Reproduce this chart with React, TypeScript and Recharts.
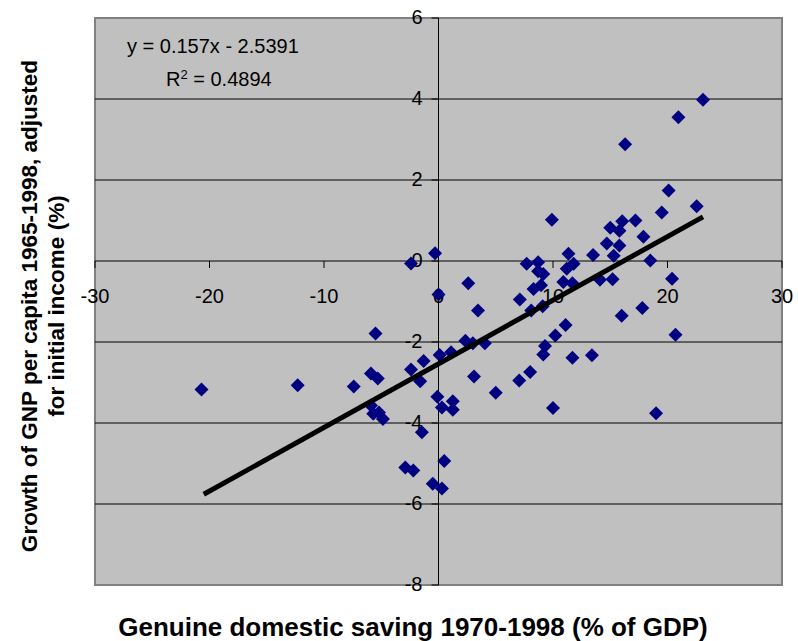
import React from 'react';
import { ScatterChart, Scatter, XAxis, YAxis, ReferenceLine, ReferenceArea, ReferenceDot } from 'recharts';

// genuine domestic saving (% of GDP) vs. adjusted GNP growth (%)
const savingX = [
  -20.7, -12.3, -7.4, -5.5, -5.9, -5.3, -5.9, -5.7, -5.2, -4.85,
  -2.4, -1.3, -1.6, -1.45, -2.9, -2.2, -0.5, 0.3, -0.1, 0.3,
  1.25, 1.25, 0.5, -0.3, -2.4, 0.0, 2.6, 3.45, 0.1, 1.1,
  2.35, 3.0, 4.05, 3.1, 5.0, 7.05, 8.0, 10.0, 19.0, 7.1,
  8.1, 9.1, 9.3, 9.15, 10.2, 11.1, 11.7, 13.4, 16.0, 17.8,
  20.7, 7.7, 8.7, 8.7, 9.15, 8.3, 8.95, 11.35, 11.8, 11.2,
  10.9, 11.7, 13.5, 14.1, 15.2, 14.7, 15.8, 15.3, 9.9, 23.1,
  20.95, 16.3, 20.1, 22.55, 19.5, 17.2, 16.05, 15.0, 15.8, 17.9,
  18.5, 20.4,
];
const growthY = [
  -3.17, -3.07, -3.1, -1.79, -2.78, -2.9, -3.57, -3.77, -3.74, -3.9,
  -2.68, -2.47, -2.97, -4.23, -5.1, -5.17, -5.5, -5.62, -3.35, -3.62,
  -3.46, -3.67, -4.94, 0.19, -0.06, -0.83, -0.55, -1.22, -2.32, -2.25,
  -1.97, -2.03, -2.03, -2.85, -3.25, -2.95, -2.74, -3.63, -3.76, -0.95,
  -1.22, -1.12, -2.1, -2.31, -1.84, -1.58, -2.39, -2.33, -1.35, -1.16,
  -1.82, -0.07, -0.03, -0.25, -0.32, -0.69, -0.6, 0.18, -0.07, -0.19,
  -0.52, -0.55, 0.15, -0.46, -0.45, 0.43, 0.38, 0.13, 1.02, 3.98,
  3.55, 2.88, 1.74, 1.35, 1.2, 1.0, 0.98, 0.82, 0.75, 0.6,
  0.01, -0.44,
];

// linear trend endpoints (y = 0.157x - 2.5391)
const trendX = [-20.5, 23.1];
const trendY = [-5.76, 1.09];

const xTicks = [-30, -20, -10, 0, 10, 20, 30];
const yTicks = [6, 4, 2, 0, -2, -4, -6, -8];
const gridY = [4, 2, -2, -4, -6];

const points = savingX.map((x, i) => ({ x, y: growthY[i] }));
const trend = trendX.map((x, i) => ({ x, y: trendY[i] }));

const FONT = '"Liberation Sans", Arial, sans-serif';

const Diamond = (props: any) => {
  const { cx, cy } = props;
  if (cx == null || cy == null) return null;
  const r = 7;
  return (
    <polygon
      points={`${cx},${cy - r} ${cx + r},${cy} ${cx},${cy + r} ${cx - r},${cy}`}
      fill="#000080"
    />
  );
};

const xTickShape = (value: number) => (props: any) => {
  const { cx, cy } = props;
  return (
    <g>
      <line x1={cx} y1={cy} x2={cx} y2={cy + 7} stroke="#000" />
      <text x={cx} y={cy + 37} textAnchor="middle" dominantBaseline="middle" fontSize={20} fontFamily={FONT} fill="#000">
        {value}
      </text>
    </g>
  );
};

const yTickShape = (value: number) => (props: any) => {
  const { cx, cy } = props;
  return (
    <g>
      <line x1={cx - 7} y1={cy} x2={cx} y2={cy} stroke="#000" />
      <text x={cx - 16} y={cy + 1} textAnchor="end" dominantBaseline="middle" fontSize={20} fontFamily={FONT} fill="#000">
        {value}
      </text>
    </g>
  );
};

export default function App() {
  return (
    <div style={{ position: 'absolute', left: 0, top: 0, width: 798, height: 641, background: '#fff', fontFamily: FONT }}>
      <ScatterChart width={798} height={641} margin={{ top: 18, right: 16, bottom: 56, left: 95 }}>
        <XAxis type="number" dataKey="x" domain={[-30, 30]} ticks={xTicks} hide />
        <YAxis type="number" dataKey="y" domain={[-8, 6]} ticks={yTicks} hide />
        <ReferenceArea x1={-30} x2={30} y1={-8} y2={6} fill="#c0c0c0" fillOpacity={1} stroke="#808080" strokeWidth={2} />
        {gridY.map((v) => (
          <ReferenceLine key={'g' + v} y={v} stroke="#000" strokeWidth={1} />
        ))}
        <ReferenceLine y={0} stroke="#000" strokeWidth={1} />
        <ReferenceLine x={0} stroke="#000" strokeWidth={1} />
        {xTicks.map((v) => (
          <ReferenceDot key={'x' + v} x={v} y={0} r={0} ifOverflow="visible" shape={xTickShape(v)} />
        ))}
        {yTicks.map((v) => (
          <ReferenceDot key={'y' + v} x={0} y={v} r={0} ifOverflow="visible" shape={yTickShape(v)} />
        ))}
        <Scatter data={points} shape={<Diamond />} isAnimationActive={false} />
        <Scatter
          data={trend}
          line={{ stroke: '#000', strokeWidth: 5 }}
          shape={() => null}
          isAnimationActive={false}
        />
      </ScatterChart>
      <div style={{ position: 'absolute', left: 127, top: 34, fontSize: 20, lineHeight: '24px', color: '#000' }}>
        y = 0.157x - 2.5391
      </div>
      <div style={{ position: 'absolute', left: 166, top: 67, fontSize: 20, lineHeight: '24px', color: '#000' }}>
        R<sup style={{ fontSize: 13, verticalAlign: 'top', position: 'relative', top: -4 }}>2</sup> = 0.4894
      </div>
      <div
        style={{
          position: 'absolute', left: 413, top: 627, transform: 'translate(-50%, -50%)', whiteSpace: 'nowrap',
          fontSize: 26, fontWeight: 'bold', lineHeight: '28px', color: '#000',
        }}
      >
        Genuine domestic saving 1970-1998 (% of GDP)
      </div>
      <div
        style={{
          position: 'absolute', left: 43, top: 306, width: 600, transform: 'translate(-50%, -50%) rotate(-90deg)',
          textAlign: 'center', fontSize: 22.5, fontWeight: 'bold', lineHeight: '27px', color: '#000',
        }}
      >
        Growth of GNP per capita 1965-1998, adjusted
        <br />
        for initial income (%)
      </div>
    </div>
  );
}
